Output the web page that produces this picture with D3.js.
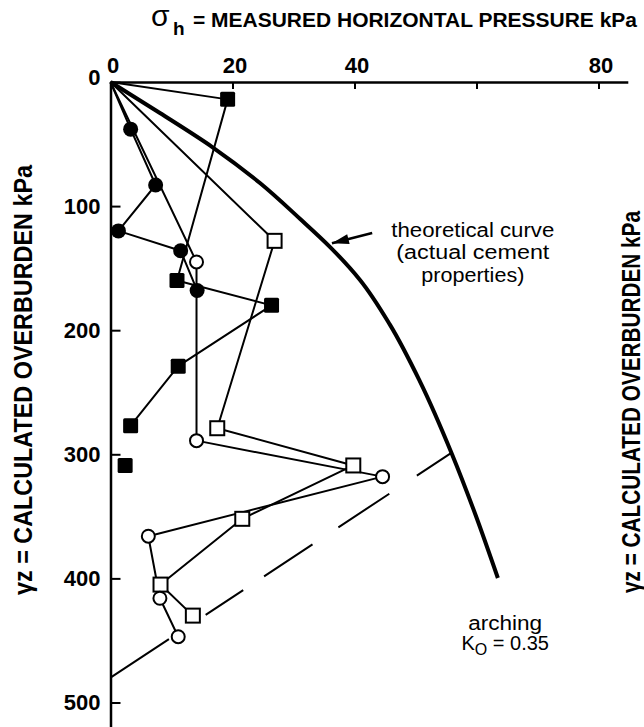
<!DOCTYPE html>
<html>
<head>
<meta charset="utf-8">
<script src="https://cdn.jsdelivr.net/npm/d3@7"></script>
<style>
  body { margin: 0; background: #fff; }
  svg { display: block; font-family: "Liberation Sans", Arial, sans-serif; }
</style>
</head>
<body>
<div id="chart"></div>
<script>
// axis ticks
const xTicks = [0, 20, 40, 60, 80];
const xTickLabels = ["0", "20", "40", "", "80"];
const yTicks = [0, 100, 200, 300, 400, 500];

// measured points [sigma_h kPa, gamma z kPa]
const filledSquares = [[0, 0], [19.2, 14], [10.9, 160], [26.4, 180], [11.1, 229], [3.3, 277]];
const filledSquareLone = [[2.4, 309]];
const filledCircles = [[0, 0], [3.3, 38], [7.4, 83], [1.3, 120], [11.5, 136], [14.2, 168]];
const openSquares = [[0, 0], [26.9, 128], [17.5, 279], [39.8, 309], [21.6, 352], [8.2, 405], [13.5, 430]];
const openCircles = [[0, 0], [14.1, 145], [14.1, 289], [44.6, 318], [6.2, 366], [8.1, 416], [11.1, 447]];

// theoretical curve (actual cement properties)
const theoryCurve = [[0, 0], [8.1, 25], [16.8, 52.8], [24.5, 81.4], [31.1, 110.4], [36, 133], [40.9, 159.5],
    [45.8, 195.5], [50.7, 241], [56, 300.1], [59.8, 348.3], [63.5, 399.7]];
// arching line K0 = 0.35
const archingLine = [[0, 480], [56, 298.4]];

const width = 644, height = 727;

const svg = d3.select("#chart").append("svg")
    .attr("width", width)
    .attr("height", height);

const x = d3.scaleLinear().domain([0, 84.8]).range([110.5, 627.8]);
const y = d3.scaleLinear().domain([0, 520]).range([82, 727.3]);

// title
svg.append("text")
    .attr("x", 151).attr("y", 26)
    .attr("font-size", 30)
    .text("σ");
svg.append("text")
    .attr("x", 173).attr("y", 35)
    .attr("font-size", 19)
    .attr("font-weight", "bold")
    .text("h");
svg.append("text")
    .attr("x", 193).attr("y", 27)
    .attr("font-size", 21)
    .attr("font-weight", "bold")
    .attr("textLength", 444)
    .attr("lengthAdjust", "spacingAndGlyphs")
    .text("= MEASURED HORIZONTAL PRESSURE kPa");

// y label (left) and cut-off label of neighbouring figure (right)
svg.append("text")
    .attr("transform", `translate(32, 380) rotate(-90)`)
    .attr("text-anchor", "middle")
    .attr("font-size", 25)
    .attr("font-weight", "bold")
    .attr("textLength", 430)
    .attr("lengthAdjust", "spacingAndGlyphs")
    .text("γz = CALCULATED OVERBURDEN kPa");
svg.append("text")
    .attr("transform", `translate(640, 402) rotate(-90)`)
    .attr("text-anchor", "middle")
    .attr("font-size", 25)
    .attr("font-weight", "bold")
    .attr("textLength", 382)
    .attr("lengthAdjust", "spacingAndGlyphs")
    .text("γz = CALCULATED OVERBURDEN kPa");

// axes
const xAxis = d3.axisTop(x)
    .tickValues(xTicks)
    .tickFormat((d, i) => xTickLabels[i])
    .tickSizeInner(-7)
    .tickSizeOuter(0)
    .tickPadding(9);

const xAxisGroup = svg.append("g")
    .attr("transform", `translate(0, ${y(0)})`)
    .call(xAxis);

const yAxis = d3.axisLeft(y)
    .tickValues(yTicks)
    .tickSizeInner(-10)
    .tickSizeOuter(0)
    .tickPadding(10);

const yAxisGroup = svg.append("g")
    .attr("transform", `translate(${x(0)}, 0)`)
    .call(yAxis);

[xAxisGroup, yAxisGroup].forEach(g => {
    g.attr("font-family", "Liberation Sans, Arial, sans-serif")
        .attr("font-size", 22)
        .attr("font-weight", "bold");
    g.select(".domain").attr("stroke-width", 2.5);
    g.selectAll(".tick line").attr("stroke-width", 2);
});
xAxisGroup.selectAll(".tick text").attr("dx", 2);
yAxisGroup.selectAll(".tick text").filter(d => d === 0).attr("dy", "0.1em");

const line = d3.line().x(d => x(d[0])).y(d => y(d[1]));

// theoretical curve
svg.append("path")
    .datum(theoryCurve)
    .attr("fill", "none")
    .attr("stroke", "#000")
    .attr("stroke-width", 4)
    .attr("d", d3.line().x(d => x(d[0])).y(d => y(d[1])).curve(d3.curveMonotoneY));

// arching line, long dashes
svg.append("path")
    .datum(archingLine)
    .attr("fill", "none")
    .attr("stroke", "#000")
    .attr("stroke-width", 2)
    .attr("stroke-dasharray", "70,44,45,25,58,31,61,33,60")
    .attr("d", line);

// measured series lines
[filledSquares, filledCircles, openSquares, openCircles].forEach(s => {
    svg.append("path")
        .datum(s)
        .attr("fill", "none")
        .attr("stroke", "#000")
        .attr("stroke-width", 2)
        .attr("stroke-linejoin", "round")
        .attr("d", line);
});

// markers
const sq = 15;
svg.append("g").selectAll("rect")
    .data(filledSquares.slice(1).concat(filledSquareLone))
    .enter().append("rect")
    .attr("x", d => x(d[0]) - sq / 2)
    .attr("y", d => y(d[1]) - sq / 2)
    .attr("width", sq).attr("height", sq)
    .attr("rx", 1.5)
    .attr("fill", "#000");

svg.append("g").selectAll("circle")
    .data(filledCircles.slice(1))
    .enter().append("circle")
    .attr("cx", d => x(d[0]))
    .attr("cy", d => y(d[1]))
    .attr("r", 7.5)
    .attr("fill", "#000");

svg.append("g").selectAll("rect")
    .data(openSquares.slice(1))
    .enter().append("rect")
    .attr("x", d => x(d[0]) - 7)
    .attr("y", d => y(d[1]) - 7)
    .attr("width", 14).attr("height", 14)
    .attr("fill", "#fff")
    .attr("stroke", "#000")
    .attr("stroke-width", 2);

svg.append("g").selectAll("circle")
    .data(openCircles.slice(1))
    .enter().append("circle")
    .attr("cx", d => x(d[0]))
    .attr("cy", d => y(d[1]))
    .attr("r", 6.5)
    .attr("fill", "#fff")
    .attr("stroke", "#000")
    .attr("stroke-width", 2);

// annotation: theoretical curve with arrow
const tip = [x(36.3), y(130)], tail = [x(42.9), y(121.7)];
svg.append("line")
    .attr("x1", tail[0]).attr("y1", tail[1])
    .attr("x2", tip[0]).attr("y2", tip[1])
    .attr("stroke", "#000").attr("stroke-width", 2.5);
const ang = Math.atan2(tip[1] - tail[1], tip[0] - tail[0]);
const hl = 17, hw = 5;
const bx = tip[0] - hl * Math.cos(ang), by = tip[1] - hl * Math.sin(ang);
svg.append("polygon")
    .attr("points", [
        tip,
        [bx + hw * Math.sin(ang), by - hw * Math.cos(ang)],
        [bx - hw * Math.sin(ang), by + hw * Math.cos(ang)]
    ].map(p => p.join(",")).join(" "))
    .attr("fill", "#000");

const noteLines = [
    {t: "theoretical curve", y: 124.9, w: 163},
    {t: "(actual cement", y: 142.6, w: 153},
    {t: "properties)", y: 161.2, w: 103}
];
svg.append("g").selectAll("text")
    .data(noteLines)
    .enter().append("text")
    .attr("x", x(59.4))
    .attr("y", d => y(d.y))
    .attr("text-anchor", "middle")
    .attr("font-size", 20)
    .attr("textLength", d => d.w)
    .attr("lengthAdjust", "spacingAndGlyphs")
    .text(d => d.t);

// annotation: arching
svg.append("text")
    .attr("x", x(64.7)).attr("y", y(441.6))
    .attr("text-anchor", "middle")
    .attr("font-size", 20)
    .attr("textLength", 74)
    .attr("lengthAdjust", "spacingAndGlyphs")
    .text("arching");
const k0 = svg.append("text")
    .attr("x", x(64.7)).attr("y", y(457.7))
    .attr("text-anchor", "middle")
    .attr("font-size", 20);
k0.append("tspan").text("K");
k0.append("tspan").attr("dy", 5).attr("font-size", 16).text("O");
k0.append("tspan").attr("dy", -5).text(" = 0.35");
</script>
</body>
</html>
